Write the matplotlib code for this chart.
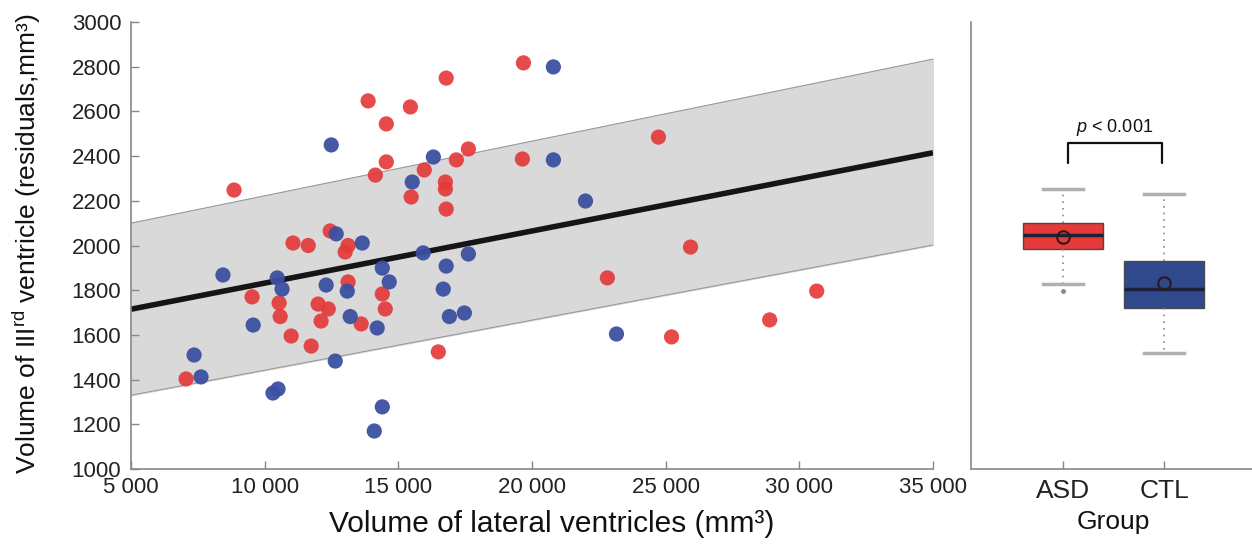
import matplotlib
matplotlib.use("Agg")
import matplotlib.pyplot as plt

plt.rcParams['font.family'] = ['Liberation Sans', 'DejaVu Sans']
plt.rcParams['mathtext.fontset'] = 'custom'
plt.rcParams['mathtext.rm'] = 'Liberation Sans'
plt.rcParams['mathtext.it'] = 'Liberation Sans:italic'

# ASD subjects (red)
asd_x = [7060, 8855, 9530, 10540, 10580, 10990, 11060, 11630, 11740, 12000,
         12380, 12110, 12450, 13120, 13010, 13120, 13610, 14400, 14510, 16495,
         13870, 14550, 15450, 16790, 19680, 14550, 14140, 15970, 17170, 17620,
         19640, 15480, 16760, 16760, 16790, 24730, 25930, 22820, 30650, 28890,
         25220]
asd_y = [1403, 2248, 1770, 1743, 1682, 1595, 2011, 2000, 1550, 1738,
         1716, 1662, 2065, 2000, 1971, 1837, 1649, 1783, 1716, 1524,
         2647, 2544, 2620, 2749, 2817, 2374, 2315, 2338, 2383, 2432,
         2387, 2217, 2284, 2253, 2163, 2485, 1993, 1855, 1796, 1667,
         1591]

# controls (blue)
ctl_x = [7360, 7620, 8440, 9570, 10470, 10650, 10310, 10500, 12300, 12675,
         12490, 12640, 13090, 13200, 13650, 14210, 14400, 14660, 14400, 14100,
         15520, 16310, 15930, 16790, 17620, 16680, 16910, 17470, 20800, 20800,
         22000, 23160]
ctl_y = [1510, 1412, 1868, 1644, 1855, 1805, 1340, 1358, 1823, 2052,
         2450, 1483, 1796, 1682, 2011, 1631, 1899, 1837, 1278, 1170,
         2284, 2396, 1967, 1908, 1962, 1805, 1682, 1698, 2799, 2383,
         2199, 1604]

# regression line + band
fit_x = [5000, 35000]
fit_y = [1715, 2415]
band_lo = [1330, 2002]
band_hi = [2100, 2834]

# box plot summary
groups = ['ASD', 'CTL']
q1 = [1984, 1720]
med = [2047, 1805]
q3 = [2101, 1931]
mean = [2038, 1832]
whis_lo = [1828, 1519]
whis_hi = [2253, 2230]
fliers = [[1797], []]

red = '#E43A3A'
blue = '#3B50A0'
box_red = '#E43A3A'
box_blue = '#30488C'

fig = plt.figure(figsize=(12.52, 5.46), dpi=100)
ax = fig.add_axes([131 / 1252, 77 / 546, 802 / 1252, 447 / 546])
ax2 = fig.add_axes([971 / 1252, 77 / 546, 281 / 1252, 447 / 546])

ax.fill_between(fit_x, band_lo, band_hi, color='#d9d9d9', zorder=1)
ax.plot(fit_x, band_lo, color='#9a9a9a', lw=0.8, zorder=1.5)
ax.plot(fit_x, band_hi, color='#9a9a9a', lw=0.8, zorder=1.5)
ax.plot(fit_x, fit_y, color='#151515', lw=4, solid_capstyle='butt', zorder=2)

ax.scatter(asd_x, asd_y, s=120, color=red, alpha=0.92, edgecolors='none', zorder=3)
ax.scatter(ctl_x, ctl_y, s=120, color=blue, alpha=0.95, edgecolors='none', zorder=3)

ax.set_xlim(5000, 35000)
ax.set_ylim(1000, 3000)
ax.set_xticks(range(5000, 35001, 5000))
ax.set_xticklabels(['{:,}'.format(v).replace(',', ' ') for v in range(5000, 35001, 5000)])
ax.set_yticks(range(1000, 3001, 200))

ax.set_xlabel('Volume of lateral ventricles (mm³)', fontsize=21.5, color='#111111')
ax.set_ylabel('Volume of III$^{\\rm rd}$ ventricle (residuals,mm³)', fontsize=19, color='#111111')
ax.xaxis.set_label_coords(0.525, -0.092)
ax.yaxis.set_label_coords(-0.11, 0.505)

for a in (ax, ax2):
    for side in ('top', 'right'):
        a.spines[side].set_visible(False)
    for side in ('left', 'bottom'):
        a.spines[side].set_color('#888888')
        a.spines[side].set_linewidth(1.2)
    a.tick_params(direction='in', length=6, width=1, color='#888888',
                  labelsize=16, labelcolor='#222222')
ax.tick_params(axis='x', pad=6)
ax.tick_params(axis='y', pad=7)

# box plot panel
stats = []
for i in range(len(groups)):
    stats.append({'label': groups[i], 'q1': q1[i], 'med': med[i], 'q3': q3[i],
                  'mean': mean[i], 'whislo': whis_lo[i], 'whishi': whis_hi[i],
                  'fliers': fliers[i]})
bp = ax2.bxp(stats, positions=[1, 2], widths=0.8, capwidths=0.39,
             showmeans=True, patch_artist=True,
             boxprops=dict(edgecolor='#4a4a4a', linewidth=1),
             medianprops=dict(color='#1c2038', linewidth=2.5),
             meanprops=dict(marker='o', markerfacecolor='none', markeredgecolor='#2a1a1a',
                            markersize=9, markeredgewidth=1.5),
             whiskerprops=dict(color='#8a8a8a', linewidth=1.2, linestyle=(0, (1, 3))),
             capprops=dict(color='#b0b0b0', linewidth=2.5),
             flierprops=dict(marker='o', markersize=2.5, markerfacecolor='#888888',
                             markeredgecolor='#888888'))
for patch, c in zip(bp['boxes'], [box_red, box_blue]):
    patch.set_facecolor(c)

ax2.set_xlim(0.089, 2.871)
ax2.set_ylim(1000, 3000)
ax2.set_yticks([])
ax2.set_xticks([1, 2])
ax2.set_xticklabels(groups, fontsize=19)
ax2.tick_params(axis='x', pad=7)
ax2.set_xlabel('Group', fontsize=19, color='#111111')
ax2.xaxis.set_label_coords(0.505, -0.092)

# significance bracket
ax2.plot([1.05, 1.05, 1.98, 1.98], [2369, 2459, 2459, 2369], color='#111111', lw=1.6,
         solid_joinstyle='round', solid_capstyle='round')
ax2.text(1.515, 2480, '$\\it{p}$ < 0.001', ha='center', va='bottom', fontsize=13, color='#111111')

fig.savefig('out.png', dpi=100)
